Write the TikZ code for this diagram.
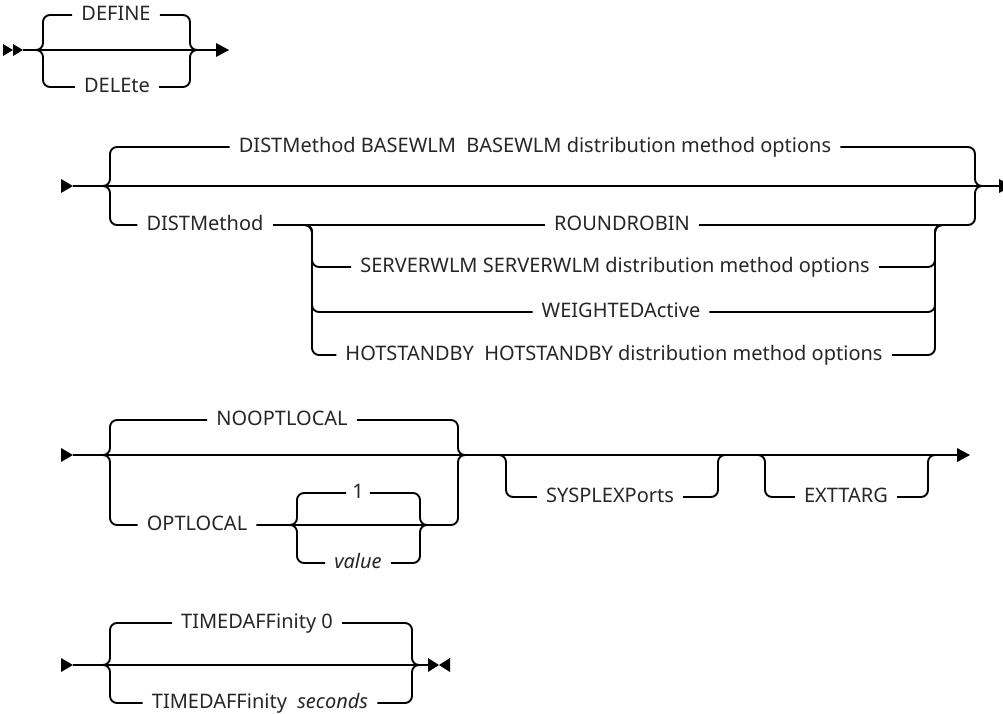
\documentclass[tikz,border=0pt]{standalone}
\usepackage{fontspec}
\setmainfont{Noto Sans}
\usepackage{tikz}
\tikzstyle{rl}=[line width=1.9pt, rounded corners=7pt]
\tikzstyle{kw}=[font=\fontsize{20}{23}\selectfont, text=black!85, inner xsep=9pt, inner ysep=0pt, text height=10.5pt, text depth=0pt]
\tikzstyle{ah}=[fill=black]

\begin{document}
\begin{tikzpicture}[x=1pt, y=-1pt]
\useasboundingbox (0,0) rectangle (1003,713);

\coordinate (s1) at (23,50);
\coordinate (j1l) at (36,50);
\coordinate (j1r) at (197,50);
\coordinate (e1) at (216,50);
\node[kw] (define) at (116,15) {DEFINE};
\node[kw] (delete) at (117,87) {DELEte};

\draw[rl] (s1) -- (e1);
\draw[rl] (j1l) -- ([xshift=7pt]j1l) |- (define.west);
\draw[rl] (j1l) -- ([xshift=7pt]j1l) |- (delete.west);
\draw[rl] (define.east) -| ([xshift=-7pt]j1r) -- (j1r);
\draw[rl] (delete.east) -| ([xshift=-7pt]j1r) -- (j1r);
\fill[ah] (s1) -- ++(-10,-6) -- ++(0,12) -- cycle;
\fill[ah] ([xshift=-10pt]s1) -- ++(-10,-6) -- ++(0,12) -- cycle;
\fill[ah] ([yshift=7pt]e1) -- ++(13,7) -- ++(-13,7) -- cycle;

\coordinate (s2) at (73,186);
\coordinate (j2l) at (103,186);
\coordinate (j2r) at (982,186);
\coordinate (e2) at (999,186);
\coordinate (j2a) at (305,225);
\coordinate (j2b) at (942,225);
\node[kw] (bwlm) at (535,147) {DISTMethod BASEWLM\ \ BASEWLM distribution method options};
\node[kw] (dm) at (205,225) {DISTMethod};
\node[kw] (rr) at (622,225) {ROUNDROBIN};
\node[kw] (swlm) at (615,267) {SERVERWLM SERVERWLM distribution method options};
\node[kw] (wact) at (621,312) {WEIGHTEDActive};
\node[kw] (hsb) at (614,355) {HOTSTANDBY\ \ HOTSTANDBY distribution method options};

\draw[rl] (s2) -- (e2);
\draw[rl] (j2l) -- ([xshift=7pt]j2l) |- (bwlm.west);
\draw[rl] (j2l) -- ([xshift=7pt]j2l) |- (dm.west);
\draw[rl] (bwlm.east) -| ([xshift=-7pt]j2r) -- (j2r);
\draw[rl] (dm.east) -- (rr.west);
\draw[rl] (rr.east) -| ([xshift=-7pt]j2r) -- (j2r);
\draw[rl] (j2a) -- ([xshift=7pt]j2a) |- (swlm.west);
\draw[rl] (j2a) -- ([xshift=7pt]j2a) |- (wact.west);
\draw[rl] (j2a) -- ([xshift=7pt]j2a) |- (hsb.west);
\draw[rl] (swlm.east) -| ([xshift=-7pt]j2b) -- (j2b);
\draw[rl] (wact.east) -| ([xshift=-7pt]j2b) -- (j2b);
\draw[rl] (hsb.east) -| ([xshift=-7pt]j2b) -- (j2b);
\fill[ah] (s2) -- ++(-12,-7) -- ++(0,14) -- cycle;
\fill[ah] ([yshift=7pt]e2) -- ++(13,7) -- ++(-13,7) -- cycle;

\coordinate (s3) at (73,455);
\coordinate (j3l) at (103,455);
\coordinate (j3r) at (465,455);
\coordinate (j3a) at (290,525);
\coordinate (j3b) at (427,525);
\coordinate (j3c) at (499,455);
\coordinate (j3d) at (725,455);
\coordinate (j3e) at (758,455);
\coordinate (j3f) at (935,455);
\coordinate (e3) at (957,455);
\node[kw] (nol) at (282,420) {NOOPTLOCAL};
\node[kw] (opl) at (197,525) {OPTLOCAL};
\node[kw, inner xsep=6pt] (one) at (358,493) {1};
\node[kw] (val) at (358,563) {\itshape value};
\node[kw] (spx) at (610,497) {SYSPLEXPorts};
\node[kw] (ext) at (846,497) {EXTTARG};

\draw[rl] (s3) -- (e3);
\draw[rl] (j3l) -- ([xshift=7pt]j3l) |- (nol.west);
\draw[rl] (j3l) -- ([xshift=7pt]j3l) |- (opl.west);
\draw[rl] (nol.east) -| ([xshift=-7pt]j3r) -- (j3r);
\draw[rl] (opl.east) -| ([xshift=-7pt]j3r) -- (j3r);
\draw[rl] (j3a) -- ([xshift=7pt]j3a) |- (one.west);
\draw[rl] (j3a) -- ([xshift=7pt]j3a) |- (val.west);
\draw[rl] (one.east) -| ([xshift=-7pt]j3b) -- (j3b);
\draw[rl] (val.east) -| ([xshift=-7pt]j3b) -- (j3b);
\draw[rl] (j3c) -- ([xshift=7pt]j3c) |- (spx.west);
\draw[rl] (spx.east) -| ([xshift=-7pt]j3d) -- (j3d);
\draw[rl] (j3e) -- ([xshift=7pt]j3e) |- (ext.west);
\draw[rl] (ext.east) -| ([xshift=-7pt]j3f) -- (j3f);
\fill[ah] (s3) -- ++(-12,-7) -- ++(0,14) -- cycle;
\fill[ah] ([yshift=7pt]e3) -- ++(13,7) -- ++(-13,7) -- cycle;

\coordinate (s4) at (73,665);
\coordinate (j4l) at (103,665);
\coordinate (j4r) at (419,665);
\coordinate (e4) at (428,665);
\node[kw] (ta0) at (257,623) {TIMEDAFFinity 0};
\node[kw] (tas) at (260,703) {TIMEDAFFinity\ \ \itshape seconds};

\draw[rl] (s4) -- (e4);
\draw[rl] (j4l) -- ([xshift=7pt]j4l) |- (ta0.west);
\draw[rl] (j4l) -- ([xshift=7pt]j4l) |- (tas.west);
\draw[rl] (ta0.east) -| ([xshift=-7pt]j4r) -- (j4r);
\draw[rl] (tas.east) -| ([xshift=-7pt]j4r) -- (j4r);
\fill[ah] (s4) -- ++(-12,-7) -- ++(0,14) -- cycle;
\fill[ah] ([yshift=7pt]e4) -- ++(11,7) -- ++(-11,7) -- cycle;
\fill[ah] ([xshift=22pt, yshift=7pt]e4) -- ++(-11,7) -- ++(11,7) -- cycle;

\end{tikzpicture}
\end{document}
